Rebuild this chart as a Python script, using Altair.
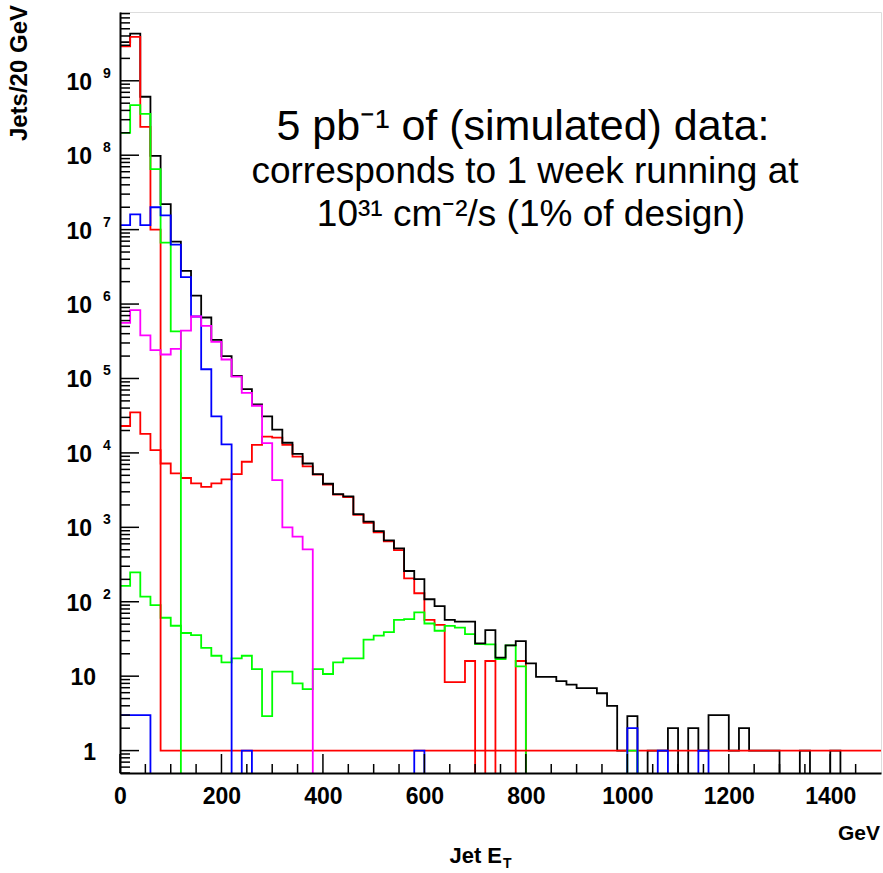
import altair as alt
import pandas as pd

# ---------------- data (Jets / 20 GeV, 75 bins from 0 to 1500 GeV) ----------------
BIN_WIDTH = 20
X_MAX = 1500

black_total = [3.3e9, 4.3e9, 6.1e8, 9.8e7, 2.2e7, 6.9e6, 2.8e6, 1.3e6, 6.6e5, 3.3e5,
               2.0e5, 1.08e5, 7.2e4, 4.5e4, 3.1e4, 2.05e4, 1.37e4, 9.7e3, 7.2e3, 5.2e3,
               3.85e3, 2.8e3, 2.6e3, 1.5e3, 1.19e3, 890, 668, 522, 259, 202,
               108, 87.5, 57, 54, 54, 27.6, 41.6, 17.7, 26, 29.6,
               14.9, 9.8, 9.8, 8.6, 7.7, 6.9, 6.9, 5.9, 4.0, 1,
               2.9, 0, 1, 1, 2, 0, 2, 1, 3, 3,
               1, 2, 1, 1, 1, 0, 0, 1, 0, 0,
               1, 0, 0, 0, 0]

red_low = [2.9e9, 3.9e9, 2.4e8, 1.0e7, 1, 1, 1, 1, 1, 1,
           1, 1, 1, 1, 1, 1, 1, 1, 1, 1,
           1, 1, 1, 1, 1, 1, 1, 1, 1, 1,
           1, 1, 1, 1, 1, 1, 1, 1, 1, 1,
           1, 1, 1, 1, 1, 1, 1, 1, 1, 1,
           1, 1, 1, 1, 1, 1, 1, 1, 1, 1,
           1, 1, 1, 1, 1, 1, 1, 1, 1, 1,
           1, 1, 1, 1, 1]

red_high = [2.3e4, 3.5e4, 1.8e4, 1.09e4, 7.2e3, 5.3e3, 4.6e3, 3.9e3, 3.5e3, 3.9e3,
            4.4e3, 5.2e3, 7.6e3, 1.28e4, 1.65e4, 1.6e4, 1.28e4, 8.9e3, 6.6e3, 5.1e3,
            3.75e3, 2.75e3, 2.55e3, 1.47e3, 1.15e3, 855, 647, 495, 206, 130,
            57, 49, 8.3, 8.3, 16, 0, 16, 0, 0, 16,
            0, 0, 0, 0, 0, 0, 0, 0, 0, 0,
            0, 0, 0, 0, 0, 0, 0, 0, 0, 0,
            0, 0, 0, 0, 0, 0, 0, 0, 0, 0,
            0, 0, 0, 0, 0]

green_low = [2.0e8, 4.7e8, 3.6e8, 6.5e7, 6.7e6, 4.3e5, 0, 0, 0, 0,
             0, 0, 0, 0, 0, 0, 0, 0, 0, 0,
             0, 0, 0, 0, 0, 0, 0, 0, 0, 0,
             0, 0, 0, 0, 0, 0, 0, 0, 0, 0,
             0, 0, 0, 0, 0, 0, 0, 0, 0, 0,
             1, 0, 0, 0, 0, 0, 0, 0, 0, 0,
             0, 0, 0, 0, 0, 0, 0, 0, 0, 0,
             0, 0, 0, 0, 0]

green_high = [163, 248, 117, 90, 61, 47.6, 38, 35.7, 24, 18.8,
              15.3, 17.3, 18.8, 12.4, 2.9, 11.5, 11.5, 8.0, 6.7, 12.4,
              10.7, 15.3, 17.3, 17.3, 31, 35, 39, 57, 58.5, 72,
              51, 40.8, 47.5, 45, 36.8, 27, 26.7, 17, 26, 13.5,
              0, 0, 0, 0, 0, 0, 0, 0, 0, 0,
              0, 0, 0, 0, 0, 0, 0, 0, 0, 0,
              0, 0, 0, 0, 0, 0, 0, 0, 0, 0,
              0, 0, 0, 0, 0]

blue_mid = [1.15e7, 1.6e7, 1.15e7, 2.0e7, 1.55e7, 6.3e6, 2.3e6, 6.8e5, 1.33e5, 3.1e4,
            1.3e4, 0, 1, 0, 0, 0, 0, 0, 0, 0,
            0, 0, 0, 0, 0, 0, 0, 0, 0, 1,
            0, 0, 0, 0, 0, 0, 0, 0, 0, 0,
            0, 0, 0, 0, 0, 0, 0, 0, 0, 0,
            2, 0, 0, 1, 0, 0, 0, 1, 0, 0,
            0, 0, 0, 0, 0, 0, 0, 0, 0, 0,
            0, 0, 0, 0, 0]

blue_low = [3, 3, 3, 0, 0, 0, 0, 0, 0, 0,
            0, 0, 0, 0, 0, 0, 0, 0, 0, 0,
            0, 0, 0, 0, 0, 0, 0, 0, 0, 0,
            0, 0, 0, 0, 0, 0, 0, 0, 0, 0,
            0, 0, 0, 0, 0, 0, 0, 0, 0, 0,
            0, 0, 0, 0, 0, 0, 0, 0, 0, 0,
            0, 0, 0, 0, 0, 0, 0, 0, 0, 0,
            0, 0, 0, 0, 0]

magenta = [5.6e5, 8.3e5, 3.8e5, 2.4e5, 2.1e5, 2.5e5, 4.4e5, 6.8e5, 5.1e5, 3.1e5,
           1.8e5, 1.06e5, 6.4e4, 4.3e4, 1.35e4, 4.3e3, 1.0e3, 750, 506, 0,
           0, 0, 0, 0, 0, 0, 0, 0, 0, 0,
           0, 0, 0, 0, 0, 0, 0, 0, 0, 0,
           0, 0, 0, 0, 0, 0, 0, 0, 0, 0,
           0, 0, 0, 0, 0, 0, 0, 0, 0, 0,
           0, 0, 0, 0, 0, 0, 0, 0, 0, 0,
           0, 0, 0, 0, 0]

x_major_ticks = [0, 200, 400, 600, 800, 1000, 1200, 1400]
x_minor_ticks = [50, 100, 150, 250, 300, 350, 450, 500, 550, 650, 700, 750, 850, 900,
                 950, 1050, 1100, 1150, 1250, 1300, 1350, 1450]
y_major_ticks = [1, 10, 1e2, 1e3, 1e4, 1e5, 1e6, 1e7, 1e8, 1e9]
y_minor_mult = [2, 3, 4, 5, 6, 7, 8, 9]
y_plain_labels = ["1", "10"]
y_exp_labels = ["2", "3", "4", "5", "6", "7", "8", "9"]

note_lines = ["5 pb\u207b\u00b9 of (simulated) data:",
              "corresponds to 1 week running at",
              "10\u00b3\u00b9 cm\u207b\u00b2/s (1% of design)"]

# ---------------- layout ----------------
W, H = 761, 761
PAD = {"left": 120, "top": 12, "right": 2, "bottom": 100}
FLOOR = 0.3  # empty bins are drawn down to (below) the frame bottom
FONT = "Liberation Sans"
NOTE_SIZES = [43, 37, 37]
NOTE_X = [403, 405, 411]
NOTE_Y = [128, 171, 214]

rows = []
series_list = [("black", black_total), ("red_low", red_low), ("red_high", red_high),
               ("green_low", green_low), ("green_high", green_high),
               ("blue_mid", blue_mid), ("blue_low", blue_low), ("magenta", magenta)]
for name, vals in series_list:
    for i, v in enumerate(vals):
        rows.append({"series": name, "x": i * BIN_WIDTH, "v": v})
    rows.append({"series": name, "x": len(vals) * BIN_WIDTH, "v": vals[-1]})
df = pd.DataFrame(rows)
df["v"] = df["v"].where(df["v"] > 0, FLOOR)

xs = alt.Scale(domain=[0, X_MAX], nice=False, zero=False)
ys = alt.Scale(type="log", domain=[0.5, 8.4e9], nice=False)

x_axis = alt.Axis(values=x_major_ticks, ticks=False, grid=False, domainColor="black",
                  domainWidth=2, labelFont=FONT, labelFontWeight="bold", labelFontSize=23,
                  labelColor="black", labelPadding=12, title=None, zindex=1,
                  labelFlush=False, format="d")
y_axis = alt.Axis(labels=False, ticks=False, grid=False, domainColor="black",
                  domainWidth=2, title=None, zindex=1)


def X(field):
    return alt.X(field, scale=xs, axis=x_axis)


def Y(field):
    return alt.Y(field, scale=ys, axis=y_axis)


def line(name, color):
    return alt.Chart(df).transform_filter(alt.datum.series == name).mark_line(
        interpolate="step-after", color=color, strokeWidth=1.8, clip=True
    ).encode(x=X("x:Q"), y=Y("v:Q"))


layers = [
    line("red_high", "#ff0000"),
    line("green_high", "#00ff00"),
    line("black", "#000000"),
    line("red_low", "#ff0000"),
    line("green_low", "#00ff00"),
    line("blue_mid", "#0000ff"),
    line("blue_low", "#0000ff"),
    line("magenta", "#ff00ff"),
]

# inward ticks
xmaj = pd.DataFrame({"t": x_major_ticks})
xmin = pd.DataFrame({"t": x_minor_ticks})
ymaj = pd.DataFrame({"t": y_major_ticks})
ymin = pd.DataFrame({"t": [m * 10.0 ** k for k in range(-1, 10) for m in y_minor_mult
                           if 0.5 <= m * 10.0 ** k <= 8.4e9]})

layers += [
    alt.Chart(xmaj).mark_rule(color="black", strokeWidth=1.5).encode(
        x=X("t:Q"), y=alt.value(H), y2=alt.value(H - 19)),
    alt.Chart(xmin).mark_rule(color="black", strokeWidth=1.5).encode(
        x=X("t:Q"), y=alt.value(H), y2=alt.value(H - 9)),
    alt.Chart(ymaj).mark_rule(color="black", strokeWidth=1.5).encode(
        y=Y("t:Q"), x=alt.value(0), x2=alt.value(19)),
    alt.Chart(ymin).mark_rule(color="black", strokeWidth=1.5).encode(
        y=Y("t:Q"), x=alt.value(0), x2=alt.value(10)),
]

# y tick labels
ylab_plain = pd.DataFrame({"t": y_major_ticks[:2], "lab": y_plain_labels})
ylab_exp = pd.DataFrame({"t": y_major_ticks[2:], "base": ["10"] * len(y_exp_labels),
                         "exp": y_exp_labels})
layers += [
    alt.Chart(ylab_plain).mark_text(align="right", baseline="middle", font=FONT,
                                    fontWeight="bold", fontSize=23, dy=2, color="black").encode(
        y=Y("t:Q"), x=alt.value(-24), text="lab:N"),
    alt.Chart(ylab_exp).mark_text(align="right", baseline="middle", font=FONT,
                                  fontWeight="bold", fontSize=23, dy=2, color="black").encode(
        y=Y("t:Q"), x=alt.value(-28), text="base:N"),
    alt.Chart(ylab_exp).mark_text(align="left", baseline="middle", font=FONT,
                                  fontWeight="bold", fontSize=14, dy=-7, color="black").encode(
        y=Y("t:Q"), x=alt.value(-17), text="exp:N"),
]

# axis titles
layers += [
    alt.Chart(pd.DataFrame({"s": ["Jets/20 GeV"]})).mark_text(
        angle=270, align="right", baseline="middle", font=FONT, fontWeight="bold",
        fontSize=24, color="black").encode(x=alt.value(-100), y=alt.value(-7), text="s:N"),
    alt.Chart(pd.DataFrame({"s": ["GeV"]})).mark_text(
        align="right", baseline="alphabetic", font=FONT, fontWeight="bold",
        fontSize=21, color="black").encode(x=alt.value(W - 1), y=alt.value(H + 67), text="s:N"),
    alt.Chart(pd.DataFrame({"s": ["Jet E"]})).mark_text(
        align="right", baseline="alphabetic", font=FONT, fontWeight="bold",
        fontSize=22, color="black").encode(x=alt.value(382), y=alt.value(H + 90), text="s:N"),
    alt.Chart(pd.DataFrame({"s": ["T"]})).mark_text(
        align="left", baseline="alphabetic", font=FONT, fontWeight="bold",
        fontSize=14, color="black").encode(x=alt.value(383), y=alt.value(H + 95), text="s:N"),
]

# annotation
for txt, size, xx, yy in zip(note_lines, NOTE_SIZES, NOTE_X, NOTE_Y):
    layers.append(
        alt.Chart(pd.DataFrame({"s": [txt]})).mark_text(
            align="center", baseline="alphabetic", font=FONT, fontSize=size,
            color="black").encode(x=alt.value(xx), y=alt.value(yy), text="s:N"))

chart = alt.layer(*layers).properties(
    width=W, height=H, padding=PAD,
    autosize=alt.AutoSizeParams(type="none"),
).configure_view(stroke="black", strokeWidth=1.5).configure(background="white")

chart.save("out.html", embed_options={"renderer": "svg", "actions": False})
